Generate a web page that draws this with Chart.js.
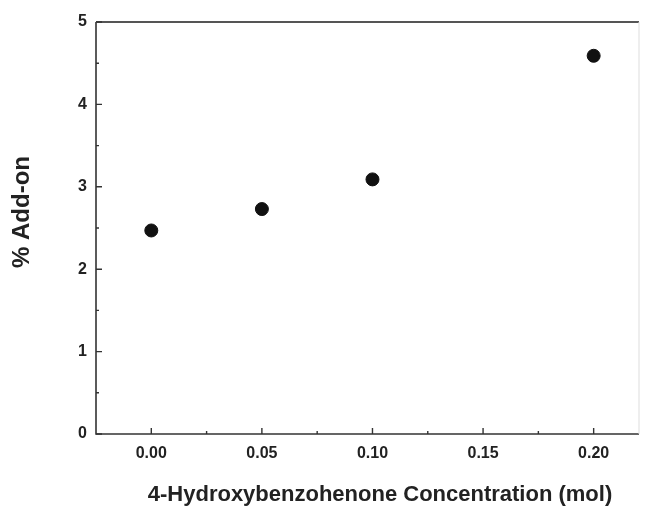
<!DOCTYPE html>
<html><head><meta charset="utf-8">
<script src="https://cdn.jsdelivr.net/npm/chart.js@4/dist/chart.umd.min.js"></script>
<style>html,body{margin:0;padding:0;background:#fff}#wrap{width:647px;height:508px}</style>
</head><body><div id="wrap"><canvas id="c" width="647" height="508"></canvas></div>
<script>
const concentrations = [0.00, 0.05, 0.10, 0.20];
const addOn = [2.47, 2.73, 3.09, 4.59];
const xTickValues = [0.00, 0.05, 0.10, 0.15, 0.20];
const xTickLabels = ["0.00", "0.05", "0.10", "0.15", "0.20"];
const yTickValues = [0, 1, 2, 3, 4, 5];
const xMinorValues = [-0.025, 0.025, 0.075, 0.125, 0.175, 0.225];
const yMinorValues = [0.5, 1.5, 2.5, 3.5, 4.5];
const xTitle = "4-Hydroxybenzohenone Concentration (mol)";
const yTitle = "% Add-on";

const points = concentrations.map((x, i) => ({x: x, y: addOn[i]}));
const FONT = "'Liberation Sans', Arial, sans-serif";

const framePlugin = {
  id: 'frame',
  afterDraw(chart) {
    const ctx = chart.ctx, a = chart.chartArea;
    const xs = chart.scales.x, ys = chart.scales.y;
    ctx.save();
    ctx.strokeStyle = '#333';
    ctx.lineWidth = 1.6;
    ctx.beginPath();
    ctx.moveTo(a.left, a.top); ctx.lineTo(a.left, a.bottom); ctx.lineTo(a.right, a.bottom);
    ctx.stroke();
    ctx.strokeStyle = '#555';
    ctx.lineWidth = 2;
    ctx.beginPath(); ctx.moveTo(a.left, a.top); ctx.lineTo(a.right, a.top); ctx.stroke();
    ctx.strokeStyle = '#ddd'; ctx.lineWidth = 1;
    ctx.beginPath(); ctx.moveTo(a.right, a.top); ctx.lineTo(a.right, a.bottom); ctx.stroke();
    ctx.strokeStyle = '#333'; ctx.lineWidth = 1.4;
    ctx.beginPath();
    xTickValues.forEach(v => { const p = xs.getPixelForValue(v); ctx.moveTo(p, a.bottom); ctx.lineTo(p, a.bottom - 6); });
    xMinorValues.forEach(v => { const p = xs.getPixelForValue(v); if (p > a.left + 1 && p < a.right - 1) { ctx.moveTo(p, a.bottom); ctx.lineTo(p, a.bottom - 3); } });
    yTickValues.forEach(v => { const p = ys.getPixelForValue(v); ctx.moveTo(a.left, p); ctx.lineTo(a.left + 6, p); });
    yMinorValues.forEach(v => { const p = ys.getPixelForValue(v); ctx.moveTo(a.left, p); ctx.lineTo(a.left + 3, p); });
    ctx.stroke();
    // axis titles
    ctx.fillStyle = '#222';
    ctx.textAlign = 'center';
    ctx.textBaseline = 'middle';
    ctx.font = "bold 22px " + FONT;
    ctx.fillText(xTitle, 380, 495);
    ctx.translate(22, 212);
    ctx.rotate(-Math.PI / 2);
    ctx.font = "bold 24px " + FONT;
    ctx.fillText(yTitle, 0, 0);
    ctx.restore();
  }
};

new Chart(document.getElementById('c'), {
  type: 'scatter',
  data: { datasets: [{ data: points, backgroundColor: '#111', borderColor: '#111', pointRadius: 6.5, pointHoverRadius: 6.5 }] },
  options: {
    responsive: false, animation: false, devicePixelRatio: 1,
    layout: { padding: { left: 0, right: 8, top: 22, bottom: 0 } },
    plugins: { legend: { display: false }, tooltip: { enabled: false } },
    scales: {
      x: {
        type: 'linear', min: -0.025, max: 0.2205,
        afterBuildTicks: s => { s.ticks = xTickValues.map(v => ({value: v})); },
        afterFit: s => { s.height = 74; },
        grid: { display: false, drawTicks: false },
        border: { display: false },
        ticks: { padding: 10, color: '#222', font: { family: FONT, size: 16, weight: 'bold' },
                 callback: (v, i) => xTickLabels[i] },
        title: { display: false, text: xTitle }
      },
      y: {
        type: 'linear', min: 0, max: 5,
        afterBuildTicks: s => { s.ticks = yTickValues.map(v => ({value: v})); },
        afterFit: s => { s.width = 96; },
        grid: { display: false, drawTicks: false },
        border: { display: false },
        ticks: { padding: 9, color: '#222', font: { family: FONT, size: 16, weight: 'bold' } },
        title: { display: false, text: yTitle }
      }
    }
  },
  plugins: [framePlugin]
});
</script></body></html>
